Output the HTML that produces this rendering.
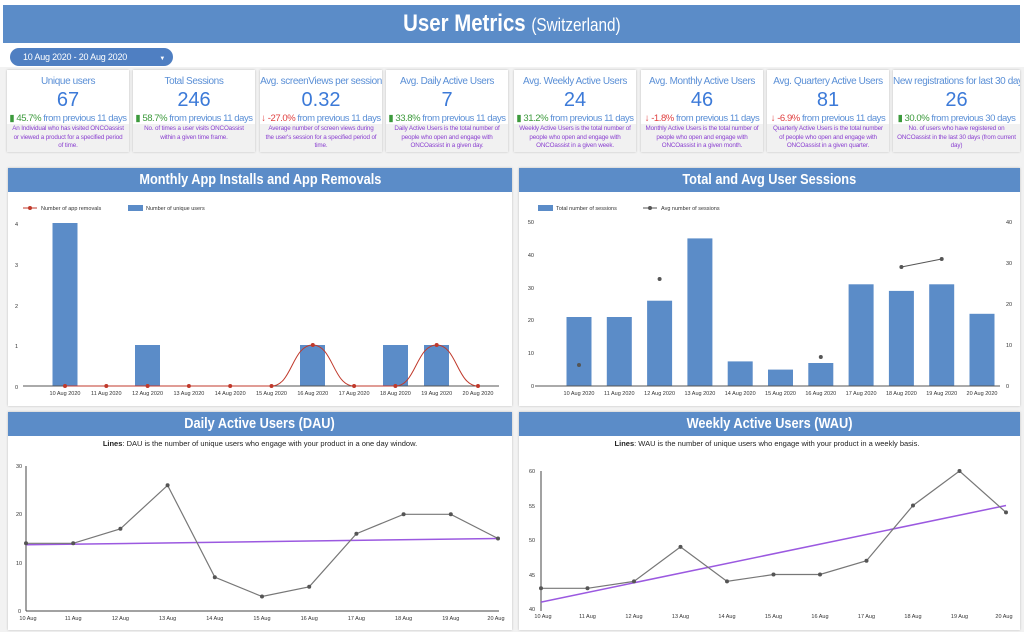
<!DOCTYPE html>
<html><head><meta charset="utf-8"><style>
*{margin:0;padding:0;box-sizing:border-box}
body{width:1024px;height:632px;background:#fff;position:relative;overflow:hidden;font-family:"Liberation Sans",sans-serif}
.abs{position:absolute}
.bg{left:0;top:67px;width:1024px;height:565px;background:#f2f2f2}
.hdr{left:3px;top:5px;width:1017px;height:38px;background:#5b8cc8;color:#fff;text-align:center;font:bold 24px/38px "Liberation Sans",sans-serif}
.hdr b{display:inline-block;transform:scaleX(0.85)}
.hdr span{font-weight:normal;font-size:18px}
.pill{left:10px;top:48px;width:163px;height:18px;border-radius:9px;background:#4f7fc2;color:#fff;font:9px/18px "Liberation Sans",sans-serif;padding-left:13px;letter-spacing:-0.2px}
.card{top:70px;width:122px;height:82px;background:#fff;box-shadow:0 0 2px #bbb;text-align:center;overflow:hidden}
.card .t{color:#5a8fd6;font:10px/14px "Liberation Sans",sans-serif;margin-top:5px;white-space:nowrap;letter-spacing:-0.4px}
.card .v{color:#3c7ad8;font:20px/20px "Liberation Sans",sans-serif;margin-top:1px}
.card .c{font:9.5px/13px "Liberation Sans",sans-serif;color:#5a8fd6;white-space:nowrap;margin-top:2px;letter-spacing:-0.45px}
.card .g{color:#3c9a3c}.card .r{color:#e04040}
.card .d{position:absolute;left:0;top:54px;width:100%;height:28px;background:#f1f1f1;color:#8a3fd0;font:6.3px/8.5px "Liberation Sans",sans-serif;padding:1px 4px;letter-spacing:-0.15px}
.panel{background:#fff;box-shadow:0 0 2px #bbb}
.ph{background:#5b8cc8;color:#fff;text-align:center;font:bold 15px/24px "Liberation Sans",sans-serif}
.ph b{display:inline-block;transform:scaleX(0.85)}
svg text{font-family:"Liberation Sans",sans-serif}
</style></head><body>
<div class="abs bg"></div>
<div class="abs hdr"><b>User Metrics <span>(Switzerland)</span></b></div>
<div class="abs pill">10 Aug 2020 - 20 Aug 2020 <span style="margin-left:30px;font-size:6px">▼</span></div>

<div class="abs card" style="left:7px"><div class="t">Unique users</div><div class="v">67</div><div class="c"><span class="g">▮ 45.7%</span> from previous 11 days</div><div class="d">An Individual who has visited ONCOassist or viewed a product for a specified period of time.</div></div>
<div class="abs card" style="left:133px"><div class="t">Total Sessions</div><div class="v">246</div><div class="c"><span class="g">▮ 58.7%</span> from previous 11 days</div><div class="d">No. of times a user visits ONCOassist within a given time frame.</div></div>
<div class="abs card" style="left:260px"><div class="t">Avg. screenViews per session</div><div class="v">0.32</div><div class="c"><span class="r">↓ -27.0%</span> from previous 11 days</div><div class="d">Average number of screen views during the user's session for a specified period of time.</div></div>
<div class="abs card" style="left:386px"><div class="t">Avg. Daily Active Users</div><div class="v">7</div><div class="c"><span class="g">▮ 33.8%</span> from previous 11 days</div><div class="d">Daily Active Users is the total number of people who open and engage with ONCOassist in a given day.</div></div>
<div class="abs card" style="left:514px"><div class="t">Avg. Weekly Active Users</div><div class="v">24</div><div class="c"><span class="g">▮ 31.2%</span> from previous 11 days</div><div class="d">Weekly Active Users is the total number of people who open and engage with ONCOassist in a given week.</div></div>
<div class="abs card" style="left:641px"><div class="t">Avg. Monthly Active Users</div><div class="v">46</div><div class="c"><span class="r">↓ -1.8%</span> from previous 11 days</div><div class="d">Monthly Active Users is the total number of people who open and engage with ONCOassist in a given month.</div></div>
<div class="abs card" style="left:767px"><div class="t">Avg. Quartery Active Users</div><div class="v">81</div><div class="c"><span class="r">↓ -6.9%</span> from previous 11 days</div><div class="d">Quarterly Active Users is the total number of people who open and engage with ONCOassist in a given quarter.</div></div>
<div class="abs card" style="left:893px;width:127px"><div class="t">New registrations for last 30 days</div><div class="v">26</div><div class="c"><span class="g">▮ 30.0%</span> from previous 30 days</div><div class="d">No. of users who have registered on ONCOassist in the last 30 days (from current day)</div></div>

<div class="abs panel" style="left:8px;top:168px;width:504px;height:238px"><div class="ph"><b>Monthly App Installs and App Removals</b></div></div>
<div class="abs panel" style="left:519px;top:168px;width:501px;height:238px"><div class="ph"><b>Total and Avg User Sessions</b></div></div>
<div class="abs panel" style="left:8px;top:412px;width:504px;height:218px"><div class="ph"><b>Daily Active Users (DAU)</b></div></div>
<div class="abs panel" style="left:519px;top:412px;width:501px;height:218px"><div class="ph"><b>Weekly Active Users (WAU)</b></div></div>

<svg class="abs" style="left:0;top:0" width="1024" height="632" viewBox="0 0 1024 632">
<g font-size="5.5" fill="#333">
<line x1="23" y1="208" x2="37" y2="208" stroke="#c0392b" stroke-width="1"/><circle cx="30" cy="208" r="2" fill="#c0392b"/>
<text x="41" y="210">Number of app removals</text>
<rect x="128" y="205" width="15" height="6" fill="#5b8cc8"/><text x="146" y="210">Number of unique users</text>
<text x="15" y="226">4</text><text x="15" y="267">3</text><text x="15" y="308">2</text><text x="15" y="348">1</text><text x="15" y="389">0</text>
<g fill="#5b8cc8"><rect x="52.5" y="223" width="25" height="163"/><rect x="135" y="345" width="25" height="41"/><rect x="300" y="345" width="25" height="41"/><rect x="383" y="345" width="25" height="41"/><rect x="424" y="345" width="25" height="41"/></g>
<line x1="23" y1="386" x2="499" y2="386" stroke="#555" stroke-width="1"/>
<path d="M65 386 L271.5 386 C292 386 292 345 312.8 345 C333 345 333 386 354.1 386 L395.4 386 C416 386 416 345 436.7 345 C457 345 457 386 478 386" fill="none" stroke="#c0392b" stroke-width="1"/>
<g fill="#c0392b"><circle cx="65" cy="386" r="2"/><circle cx="106.3" cy="386" r="2"/><circle cx="147.6" cy="386" r="2"/><circle cx="188.9" cy="386" r="2"/><circle cx="230.2" cy="386" r="2"/><circle cx="271.5" cy="386" r="2"/><circle cx="312.8" cy="345" r="2"/><circle cx="354.1" cy="386" r="2"/><circle cx="395.4" cy="386" r="2"/><circle cx="436.7" cy="345" r="2"/><circle cx="478" cy="386" r="2"/></g>
<g text-anchor="middle"><text x="65" y="395">10 Aug 2020</text><text x="106.3" y="395">11 Aug 2020</text><text x="147.6" y="395">12 Aug 2020</text><text x="188.9" y="395">13 Aug 2020</text><text x="230.2" y="395">14 Aug 2020</text><text x="271.5" y="395">15 Aug 2020</text><text x="312.8" y="395">16 Aug 2020</text><text x="354.1" y="395">17 Aug 2020</text><text x="395.4" y="395">18 Aug 2020</text><text x="436.7" y="395">19 Aug 2020</text><text x="478" y="395">20 Aug 2020</text></g>
<rect x="538" y="205" width="15" height="6" fill="#5b8cc8"/><text x="556" y="210">Total number of sessions</text>
<line x1="643" y1="208" x2="657" y2="208" stroke="#555"/><circle cx="650" cy="208" r="2" fill="#555"/><text x="661" y="210">Avg number of sessions</text>
<g text-anchor="end"><text x="534" y="224">50</text><text x="534" y="257">40</text><text x="534" y="290">30</text><text x="534" y="322">20</text><text x="534" y="355">10</text><text x="534" y="388">0</text></g>
<text x="1006" y="224">40</text><text x="1006" y="265">30</text><text x="1006" y="306">20</text><text x="1006" y="347">10</text><text x="1006" y="388">0</text>
<g fill="#5b8cc8"><rect x="566.5" y="317" width="25" height="69"/><rect x="606.8" y="317" width="25" height="69"/><rect x="647.1" y="300.7" width="25" height="85.3"/><rect x="687.4" y="238.4" width="25" height="147.6"/><rect x="727.7" y="361.4" width="25" height="24.6"/><rect x="768" y="369.6" width="25" height="16.4"/><rect x="808.3" y="363" width="25" height="23"/><rect x="848.6" y="284.3" width="25" height="101.7"/><rect x="888.9" y="290.9" width="25" height="95.1"/><rect x="929.2" y="284.3" width="25" height="101.7"/><rect x="969.5" y="313.8" width="25" height="72.2"/></g>
<line x1="535" y1="386" x2="1000" y2="386" stroke="#555"/>
<line x1="901.4" y1="267" x2="941.7" y2="259" stroke="#555"/>
<g fill="#555"><circle cx="579" cy="365" r="2"/><circle cx="659.6" cy="279" r="2"/><circle cx="820.8" cy="357" r="2"/><circle cx="901.4" cy="267" r="2"/><circle cx="941.7" cy="259" r="2"/></g>
<g text-anchor="middle"><text x="579" y="395">10 Aug 2020</text><text x="619.3" y="395">11 Aug 2020</text><text x="659.6" y="395">12 Aug 2020</text><text x="699.9" y="395">13 Aug 2020</text><text x="740.2" y="395">14 Aug 2020</text><text x="780.5" y="395">15 Aug 2020</text><text x="820.8" y="395">16 Aug 2020</text><text x="861.1" y="395">17 Aug 2020</text><text x="901.4" y="395">18 Aug 2020</text><text x="941.7" y="395">19 Aug 2020</text><text x="982" y="395">20 Aug 2020</text></g>
<text x="260" y="446" text-anchor="middle" font-size="7.5" fill="#222"><tspan font-weight="bold">Lines</tspan>: DAU is the number of unique users who engage with your product in a one day window.</text>
<text x="16" y="468">30</text><text x="16" y="516">20</text><text x="16" y="565">10</text><text x="18" y="613">0</text>
<line x1="26" y1="466" x2="26" y2="611" stroke="#444"/><line x1="26" y1="611" x2="499" y2="611" stroke="#444"/>
<line x1="26" y1="544.8" x2="498" y2="538.5" stroke="#9b59e0" stroke-width="1.5"/>
<polyline points="26,543.3 73.2,543.3 120.4,528.8 167.6,485.3 214.8,577.2 262,596.5 309.2,586.8 356.4,533.7 403.6,514.3 450.8,514.3 498,538.5" fill="none" stroke="#777" stroke-width="1.2"/>
<g fill="#555"><circle cx="26" cy="543.3" r="2"/><circle cx="73.2" cy="543.3" r="2"/><circle cx="120.4" cy="528.8" r="2"/><circle cx="167.6" cy="485.3" r="2"/><circle cx="214.8" cy="577.2" r="2"/><circle cx="262" cy="596.5" r="2"/><circle cx="309.2" cy="586.8" r="2"/><circle cx="356.4" cy="533.7" r="2"/><circle cx="403.6" cy="514.3" r="2"/><circle cx="450.8" cy="514.3" r="2"/><circle cx="498" cy="538.5" r="2"/></g>
<g text-anchor="middle"><text x="28" y="620">10 Aug</text><text x="73.2" y="620">11 Aug</text><text x="120.4" y="620">12 Aug</text><text x="167.6" y="620">13 Aug</text><text x="214.8" y="620">14 Aug</text><text x="262" y="620">15 Aug</text><text x="309.2" y="620">16 Aug</text><text x="356.4" y="620">17 Aug</text><text x="403.6" y="620">18 Aug</text><text x="450.8" y="620">19 Aug</text><text x="496" y="620">20 Aug</text></g>
<text x="767" y="446" text-anchor="middle" font-size="7.5" fill="#222"><tspan font-weight="bold">Lines</tspan>: WAU is the number of unique users who engage with your product in a weekly basis.</text>
<text x="529" y="473">60</text><text x="529" y="508">55</text><text x="529" y="542">50</text><text x="529" y="577">45</text><text x="529" y="611">40</text>
<line x1="541" y1="471" x2="541" y2="611" stroke="#444"/>
<line x1="541" y1="602.1" x2="1006" y2="505.5" stroke="#9b59e0" stroke-width="1.5"/>
<polyline points="541,588.3 587.5,588.3 634,581.4 680.5,546.9 727,581.4 773.5,574.5 820,574.5 866.5,560.7 913,505.5 959.5,471 1006,512.4" fill="none" stroke="#777" stroke-width="1.2"/>
<g fill="#555"><circle cx="541" cy="588.3" r="2"/><circle cx="587.5" cy="588.3" r="2"/><circle cx="634" cy="581.4" r="2"/><circle cx="680.5" cy="546.9" r="2"/><circle cx="727" cy="581.4" r="2"/><circle cx="773.5" cy="574.5" r="2"/><circle cx="820" cy="574.5" r="2"/><circle cx="866.5" cy="560.7" r="2"/><circle cx="913" cy="505.5" r="2"/><circle cx="959.5" cy="471" r="2"/><circle cx="1006" cy="512.4" r="2"/></g>
<g text-anchor="middle"><text x="543" y="618">10 Aug</text><text x="587.5" y="618">11 Aug</text><text x="634" y="618">12 Aug</text><text x="680.5" y="618">13 Aug</text><text x="727" y="618">14 Aug</text><text x="773.5" y="618">15 Aug</text><text x="820" y="618">16 Aug</text><text x="866.5" y="618">17 Aug</text><text x="913" y="618">18 Aug</text><text x="959.5" y="618">19 Aug</text><text x="1004" y="618">20 Aug</text></g>
</g>
</svg>
</body></html>
